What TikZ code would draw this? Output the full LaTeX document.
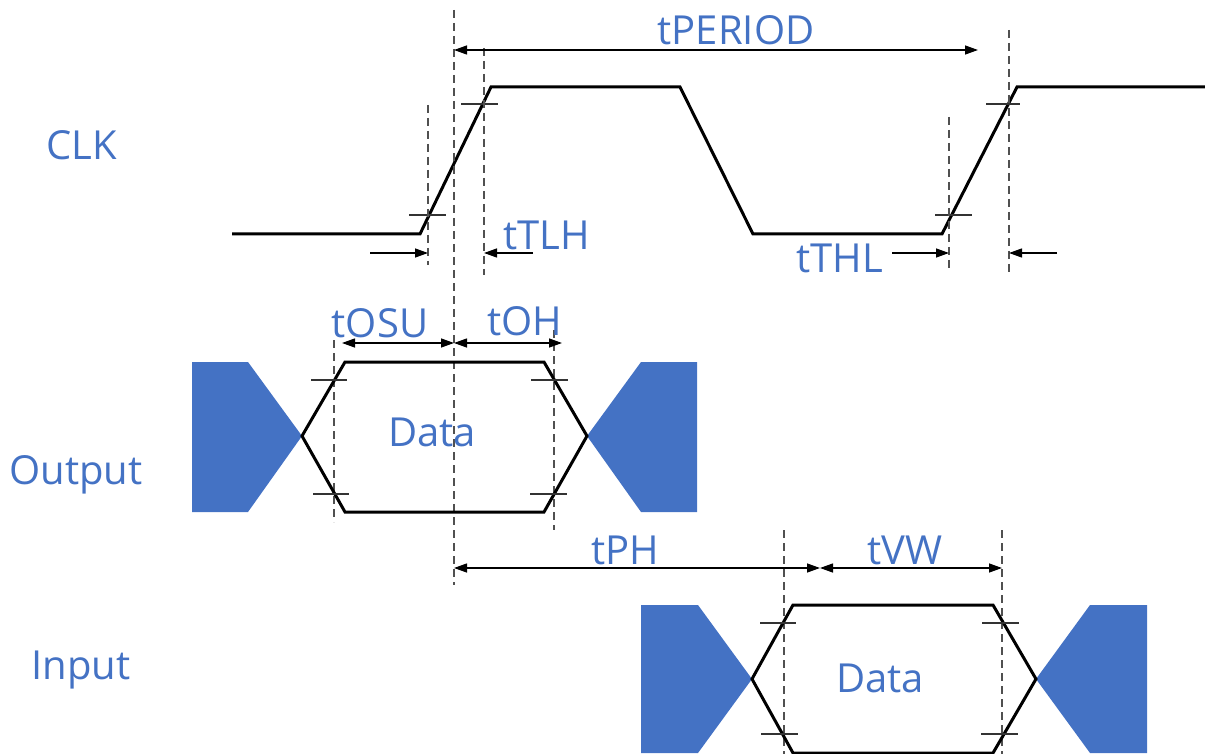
\documentclass[tikz,border=0pt]{standalone}
\usepackage{fontspec}
\setmainfont{Open Sans}
\usetikzlibrary{arrows.meta}
\definecolor{officeblue}{HTML}{4472C4}
\definecolor{guidegray}{HTML}{505050}
\begin{document}
\begin{tikzpicture}[x=1pt, y=-1pt,
        signal/.style={line width=3pt, line join=miter},
        guide/.style={guidegray, line width=1.8pt, dash pattern=on 8pt off 5pt},
        tickln/.style={black!80, line width=1.3pt},
        dimarrow/.style={line width=1.3pt, -{Triangle[length=13pt,width=9pt]}},
        dimboth/.style={line width=1.3pt, {Triangle[length=13pt,width=9pt]}-{Triangle[length=13pt,width=9pt]}},
        lbl/.style={text=officeblue, font=\fontsize{40}{45}\selectfont, inner sep=0pt},
        blob/.style={fill=officeblue, draw=none}]
            \def \yhi        {87}
            \def \ylo        {234}
            \def \ytkhi      {104}
            \def \ytklo      {215}
            \def \yarr       {253}
            \def \yot        {362}
            \def \yom        {436}
            \def \yob        {512}
            \def \yit        {605}
            \def \yim        {679}
            \def \yib        {753}

            \useasboundingbox (0,0) rectangle (1205,754);
% clock
            \draw [signal] (232,\ylo) -- (420,\ylo) -- (491,\yhi) -- (680,\yhi) -- (753,\ylo) -- (942,\ylo) -- (1017,\yhi) -- (1205,\yhi);
            \draw [tickln] (461,\ytkhi) -- (498,\ytkhi);
            \draw [tickln] (409,\ytklo) -- (446,\ytklo);
            \draw [tickln] (986,\ytkhi) -- (1020,\ytkhi);
            \draw [tickln] (935,\ytklo) -- (972,\ytklo);
% guides
            \draw [guide] (428,105) -- (428,265);
            \draw [guide] (454,10) -- (454,585);
            \draw [guide] (484,48) -- (484,275);
            \draw [guide] (949,117) -- (949,268);
            \draw [guide] (1009,30) -- (1009,272);
            \draw [guide] (334,340) -- (334,522);
            \draw [guide] (554,330) -- (554,530);
            \draw [guide] (784,530) -- (784,754);
            \draw [guide] (1002,530) -- (1002,754);
% output
            \fill [blob] (192,\yot) -- (248,\yot) -- (302,\yom) -- (248,\yob) -- (192,\yob) -- cycle;
            \fill [blob] (697,\yot) -- (641,\yot) -- (587,\yom) -- (641,\yob) -- (697,\yob) -- cycle;
            \draw [signal] (302,\yom) -- (345,\yot) -- (544,\yot) -- (587,\yom) -- (544,\yob) -- (345,\yob) -- cycle;
            \draw [tickln] (311,380) -- (347,380);
            \draw [tickln] (313,494) -- (349,494);
            \draw [tickln] (531,380) -- (568,380);
            \draw [tickln] (530,494) -- (567,494);
% input
            \fill [blob] (641,\yit) -- (698,\yit) -- (752,\yim) -- (698,\yib) -- (641,\yib) -- cycle;
            \fill [blob] (1147,\yit) -- (1090,\yit) -- (1036,\yim) -- (1090,\yib) -- (1147,\yib) -- cycle;
            \draw [signal] (752,\yim) -- (793,\yit) -- (993,\yit) -- (1036,\yim) -- (993,\yib) -- (793,\yib) -- cycle;
            \draw [tickln] (760,623) -- (796,623);
            \draw [tickln] (761,734) -- (798,734);
            \draw [tickln] (982,623) -- (1019,623);
            \draw [tickln] (981,734) -- (1018,734);
% timing arrows
            \coordinate (per-a) at (454,50);
            \coordinate (per-b) at (978,50);
            \coordinate (tlh-a) at (370,\yarr);
            \coordinate (tlh-b) at (428,\yarr);
            \coordinate (tlh-c) at (533,\yarr);
            \coordinate (tlh-d) at (484,\yarr);
            \coordinate (thl-a) at (892,\yarr);
            \coordinate (thl-b) at (949,\yarr);
            \coordinate (thl-c) at (1057,\yarr);
            \coordinate (thl-d) at (1009,\yarr);
            \coordinate (osu-a) at (342,343);
            \coordinate (osu-b) at (454,343);
            \coordinate (oh-b)  at (562,343);
            \coordinate (ph-a)  at (454,568);
            \coordinate (ph-b)  at (820,568);
            \coordinate (vw-b)  at (1002,568);
            \draw [dimboth] (per-a) -- (per-b);
            \draw [dimarrow] (tlh-a) -- (tlh-b);
            \draw [dimarrow] (tlh-c) -- (tlh-d);
            \draw [dimarrow] (thl-a) -- (thl-b);
            \draw [dimarrow] (thl-c) -- (thl-d);
            \draw [dimboth] (osu-a) -- (osu-b);
            \draw [dimboth] (osu-b) -- (oh-b);
            \draw [dimboth] (ph-a) -- (ph-b);
            \draw [dimboth] (ph-b) -- (vw-b);
% labels
            \node [lbl] (clk)    at (82,145)  {CLK};
            \node [lbl] (output) at (76,475)  {Output};
            \node [lbl] (input)  at (81,670)  {Input};
            \node [lbl] (tper)   at (736,30)  {tPERIOD};
            \node [lbl] (ttlh)   at (547,235) {tTLH};
            \node [lbl] (tthl)   at (840,258) {tTHL};
            \node [lbl] (tosu)   at (380,323) {tOSU};
            \node [lbl] (toh)    at (525,321) {tOH};
            \node [lbl] (dout)   at (432,432) {Data};
            \node [lbl] (tph)    at (625,550) {tPH};
            \node [lbl] (tvw)    at (905,550) {tVW};
            \node [lbl] (din)    at (880,678) {Data};
\end{tikzpicture}
\end{document}
